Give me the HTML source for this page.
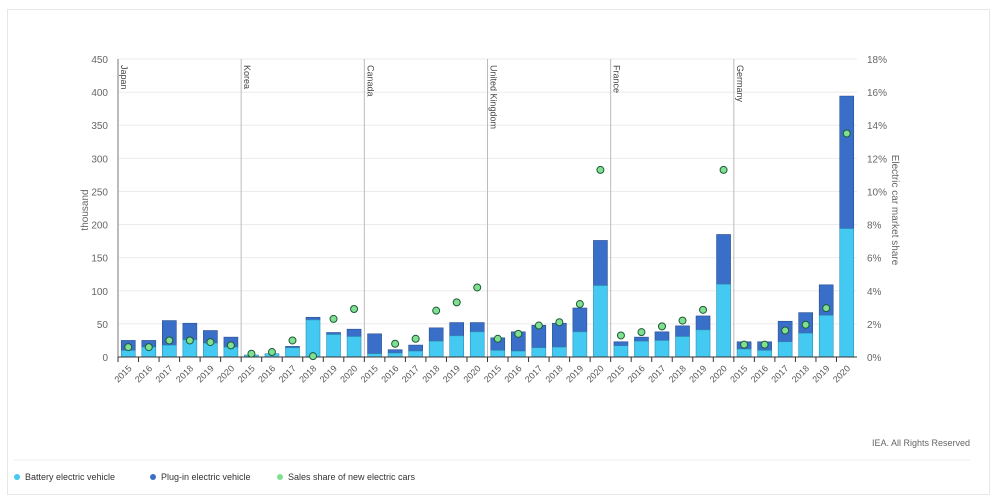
<!DOCTYPE html>
<html><head><meta charset="utf-8"><style>
body{margin:0;background:#fff;font-family:"Liberation Sans",sans-serif;}
#card{position:absolute;left:7px;top:9px;width:983px;height:486px;border:1px solid #e6e6e6;box-sizing:border-box;}
svg{position:absolute;left:0;top:0;}
</style></head><body>
<div id="card"></div>
<svg id="chart" width="1000" height="502"></svg>
<script>
const countries=["Japan","Korea","Canada","United Kingdom","France","Germany"];
const years=["2015","2016","2017","2018","2019","2020"];
const bev=[[10,15,18,26,21,15],[3,5,14,56,34,31],[5,6,9,24,32,38],[10,9,14,15,38,108],[17,24,25,31,41,110],[12,10,23,36,63,194]];
const total=[[25,25,55,51,40,30],[3,5,16,60,37,42],[35,11,18,44,52,52],[29,38,48,51,74,176],[23,30,38,47,62,185],[23,23,54,67,109,394]];
const share=[[0.6,0.6,1.0,1.0,0.9,0.7],[0.2,0.3,1.0,0.05,2.3,2.9],[null,0.8,1.1,2.8,3.3,4.2],[1.1,1.4,1.9,2.1,3.2,11.3],[1.3,1.5,1.85,2.2,2.85,11.3],[0.75,0.75,1.6,1.95,2.95,13.5]];
const leftTicks=[0,50,100,150,200,250,300,350,400,450];
const rightTicks=[0,2,4,6,8,10,12,14,16,18];

const X0=118,X1=857,Y0=357,Y1=59;
const y=v=>Y0-(v/450)*(Y0-Y1);
const yr=v=>Y0-(v/18)*(Y0-Y1);
const nSlots=countries.length*years.length;
const slot=(X1-X0)/nSlots;
const xc=(g,i)=>X0+(g*years.length+i+0.5)*slot;
const svg=document.getElementById('chart');
const NS="http://www.w3.org/2000/svg";
function mk(t,a,parent){const e=document.createElementNS(NS,t);for(const k in a)e.setAttribute(k,a[k]);(parent||svg).appendChild(e);return e;}

leftTicks.forEach((t,i)=>{
  const g=mk('line',{x1:X0,x2:X1,y1:y(t),y2:y(t),stroke:'#ebebeb','stroke-width':1});
  
  
  const l=mk('text',{x:X0-10,y:y(t)+4,'text-anchor':'end','font-size':10,fill:'#666'});
  l.textContent=t;
  
  
});
rightTicks.forEach(t=>{
  const l=mk('text',{x:X1+10,y:yr(t)+4,'text-anchor':'start','font-size':10,fill:'#666'});
  l.textContent=t+'%';
  
  
});
let t1=mk('text',{x:88,y:210,'font-size':10,fill:'#666','text-anchor':'middle',transform:'rotate(-90 88 210)'});
t1.textContent='thousand';


let t2=mk('text',{x:892,y:210,'font-size':10,fill:'#666','text-anchor':'middle',transform:'rotate(90 892 210)'});
t2.textContent='Electric car market share';



countries.forEach((c,g)=>{
  const gx=X0+g*years.length*slot;
  const d=mk('line',{x1:gx,x2:gx,y1:Y1,y2:Y0,stroke:'#bbb','stroke-width':g===0?2:1});
  
  
  const cl=mk('text',{x:gx+3,y:Y1+6,'font-size':9,fill:'#444',transform:`rotate(90 ${gx+3} ${Y1+6})`});
  cl.textContent=c;
  
  
  years.forEach((yy,i)=>{
    const cx=xc(g,i),w=14;
    const p=mk('rect',{x:cx-w/2,y:y(total[g][i]),width:w,height:y(bev[g][i])-y(total[g][i]),fill:'#3a6fc9',stroke:'#2a4f8f','stroke-width':0.6});
    
    
    const b=mk('rect',{x:cx-w/2,y:y(bev[g][i]),width:w,height:Y0-y(bev[g][i]),fill:'#44c9f2',stroke:'#2f8fb0','stroke-width':0.6});
    
    
    const tk=mk('line',{x1:cx-slot/2,x2:cx-slot/2,y1:Y0,y2:Y0+5,stroke:'#333','stroke-width':1});
    
    
    const xl=mk('text',{x:cx+4,y:Y0+12,'font-size':9,fill:'#555','text-anchor':'end',transform:`rotate(-45 ${cx+4} ${Y0+12})`});
    xl.textContent=yy;
    
    
  });
});
const ax=mk('line',{x1:X0,x2:X1,y1:Y0,y2:Y0,stroke:'#333','stroke-width':1});


countries.forEach((c,g)=>years.forEach((yy,i)=>{
  if(share[g][i]==null)return;
  const d=mk('circle',{cx:xc(g,i),cy:yr(share[g][i]),r:3.5,fill:'#7fe08f',stroke:'#1f5a3a','stroke-width':1});
  
  
}));

let cr=mk('text',{x:970,y:446,'font-size':9,fill:'#666','text-anchor':'end'});
cr.textContent='IEA. All Rights Reserved';


let sep=mk('line',{x1:14,x2:970,y1:460,y2:460,stroke:'#eee','stroke-width':1});


const legend=[["Battery electric vehicle","#44c9f2",17],["Plug-in electric vehicle","#3a6fc9",153],["Sales share of new electric cars","#7fe08f",280]];
legend.forEach(([lab,col,lx])=>{
  const c=mk('circle',{cx:lx,cy:477,r:3,fill:col});
  
  
  const t=mk('text',{x:lx+8,y:480,'font-size':9,fill:'#333'});
  t.textContent=lab;
  
  
});
</script>
</body></html>
